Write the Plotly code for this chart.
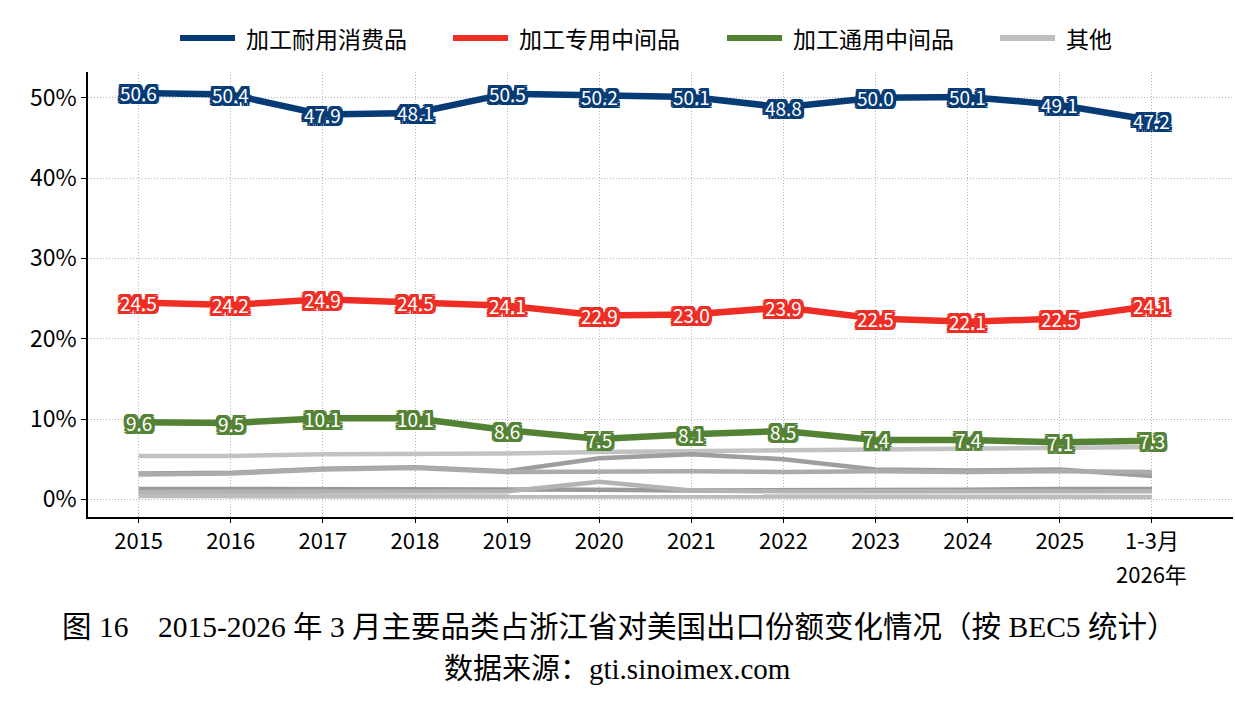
import plotly.graph_objects as go

categories = ["2015", "2016", "2017", "2018", "2019", "2020", "2021", "2022", "2023", "2024", "2025", "1-3月"]
last_period_year = "2026年"
durable = [50.6, 50.4, 47.9, 48.1, 50.5, 50.2, 50.1, 48.8, 50.0, 50.1, 49.1, 47.2]
special = [24.5, 24.2, 24.9, 24.5, 24.1, 22.9, 23.0, 23.9, 22.5, 22.1, 22.5, 24.1]
general = [9.6, 9.5, 10.1, 10.1, 8.6, 7.5, 8.1, 8.5, 7.4, 7.4, 7.1, 7.3]
other1 = [5.4, 5.4, 5.6, 5.6, 5.7, 5.9, 6.0, 6.0, 6.2, 6.3, 6.4, 6.5]
other2 = [3.2, 3.3, 3.8, 4.0, 3.5, 5.1, 5.6, 5.0, 3.7, 3.6, 3.7, 2.9]
other3 = [3.1, 3.2, 3.7, 3.9, 3.4, 3.5, 3.5, 3.4, 3.5, 3.4, 3.5, 3.4]
other4 = [1.3, 1.3, 1.3, 1.3, 1.2, 1.2, 1.1, 1.1, 1.2, 1.2, 1.3, 1.3]
other5 = [0.9, 0.9, 0.9, 0.9, 1.0, 2.2, 1.1, 1.0, 1.0, 1.0, 1.0, 1.0]
other6 = [0.4, 0.4, 0.4, 0.4, 0.4, 0.4, 0.4, 0.4, 0.4, 0.4, 0.4, 0.3]
y_ticks = [0, 10, 20, 30, 40, 50]
y_ticktext = ["0%", "10%", "20%", "30%", "40%", "50%"]
legend_names = ["加工耐用消费品", "加工专用中间品", "加工通用中间品", "其他"]

x = list(range(len(categories)))
FONT = "Microsoft YaHei, Noto Sans CJK SC, sans-serif"
C_BLUE, C_RED, C_GREEN, C_GRAY = "#063B75", "#EE2D24", "#548235", "#BFBFBF"

fig = go.Figure()

others = [(other1, "#C2C2C2"), (other2, "#9E9E9E"), (other3, "#ABABAB"),
          (other4, "#9A9A9A"), (other5, "#B3B3B3"), (other6, "#BDBDBD")]
for vals, col in others:
    fig.add_trace(go.Scatter(x=x, y=vals, mode="lines", name="其他",
                             line=dict(color=col, width=4.5),
                             showlegend=False, hoverinfo="skip"))

main = [(legend_names[0], durable, C_BLUE),
        (legend_names[1], special, C_RED),
        (legend_names[2], general, C_GREEN)]
for name, vals, col in main:
    fig.add_trace(go.Scatter(x=x, y=vals, mode="lines", name=name,
                             line=dict(color=col, width=6.5), showlegend=False))


def halo(c, r=2):
    offs = [(r, 0), (-r, 0), (0, r), (0, -r), (r, r), (-r, -r), (r, -r), (-r, r),
            (r, 1), (-r, 1), (r, -1), (-r, -1), (1, r), (-1, r), (1, -r), (-1, -r)]
    return ", ".join(f"{a}px {b}px 0 {c}" for a, b in offs)


for name, vals, col in main:
    for xi, v in zip(x, vals):
        fig.add_annotation(x=xi, y=v, text=f"{v:.1f}", showarrow=False,
                           font=dict(family=FONT, size=19, color="white",
                                     shadow=halo(col, 3)),
                           xanchor="center", yanchor="middle")

# manual legend (long line samples, wide spacing)
PL, PW, PT, PH = 88, 1145, 72, 445
def px(p):
    return (p - PL) / PW
def py(p):
    return 1 + (PT - p) / PH

leg_x = [180, 453, 727, 1000]
leg_cols = [C_BLUE, C_RED, C_GREEN, C_GRAY]
for lx, col, name in zip(leg_x, leg_cols, legend_names):
    fig.add_shape(type="line", xref="paper", yref="paper",
                  x0=px(lx), x1=px(lx + 55), y0=py(38), y1=py(38),
                  line=dict(color=col, width=6))
    fig.add_annotation(xref="paper", yref="paper", x=px(lx + 64), y=py(38),
                       xanchor="left", yanchor="middle", text=name, showarrow=False,
                       font=dict(family=FONT, size=23, color="black"))

# second line of the last category label
fig.add_annotation(x=x[-1], xref="x", yref="paper", y=py(573), yanchor="middle",
                   text=last_period_year, showarrow=False,
                   font=dict(family=FONT, size=22, color="black"))

fig.update_layout(
    width=1235, height=708,
    margin=dict(l=88, r=2, t=72, b=191),
    paper_bgcolor="white", plot_bgcolor="white",
    font=dict(family=FONT, size=22, color="black"),
    showlegend=False,
)

fig.update_xaxes(range=[-0.55, 11.88], tickvals=x, ticktext=categories,
                 showline=True, linecolor="black", linewidth=1.5,
                 ticks="outside", ticklen=4, tickcolor="black",
                 showgrid=True, gridcolor="#B5B5B5", griddash="1px,2px", gridwidth=1,
                 zeroline=False, tickfont=dict(size=22))
fig.update_yaxes(range=[-2.2, 53.2], tickvals=y_ticks, ticktext=y_ticktext,
                 showline=True, linecolor="black", linewidth=1.5,
                 ticks="outside", ticklen=5, tickcolor="black",
                 showgrid=True, gridcolor="#B5B5B5", griddash="1px,2px", gridwidth=1,
                 zeroline=False, tickfont=dict(size=23))

CAP = "Times New Roman, Liberation Serif, Noto Sans CJK SC, serif"
fig.add_annotation(xref="paper", yref="paper", x=px(619), y=py(627),
                   yanchor="middle",
                   text="图 16　2015-2026 年 3 月主要品类占浙江省对美国出口份额变化情况（按 BEC5 统计）",
                   showarrow=False, font=dict(family=CAP, size=29.5, color="black"))
fig.add_annotation(xref="paper", yref="paper", x=px(617), y=py(669), yanchor="middle",
                   text="数据来源：gti.sinoimex.com",
                   showarrow=False, font=dict(family=CAP, size=29, color="black"))

fig.write_html("out.html")
